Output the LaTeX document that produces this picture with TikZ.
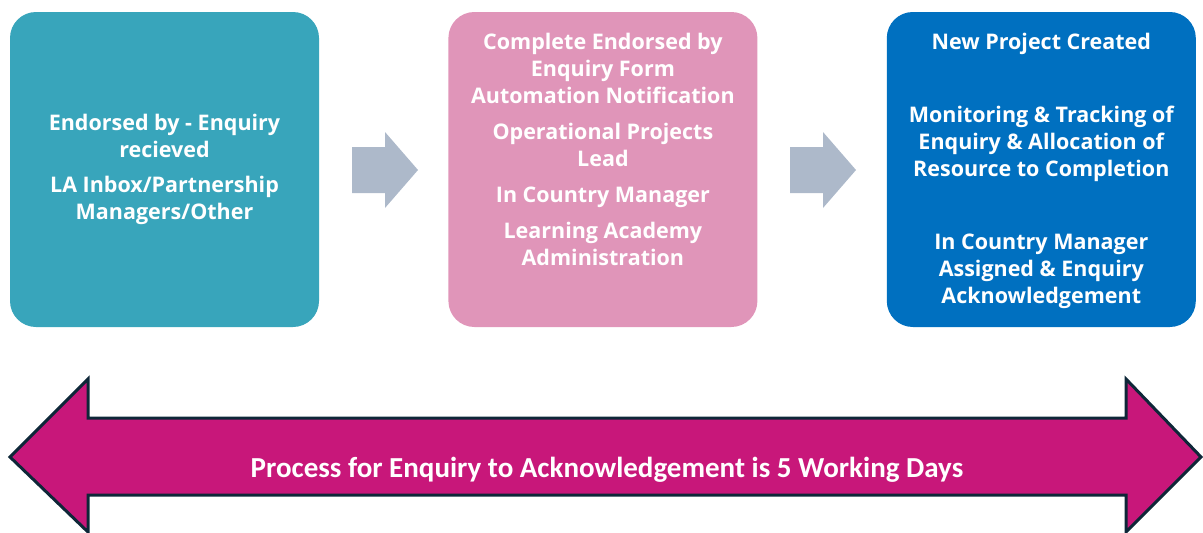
\documentclass[tikz,border=0pt]{standalone}
\usepackage{fontspec}
\setmainfont{Open Sans}
\newfontfamily\calfont{Carlito}
\usetikzlibrary{positioning}
\definecolor{tealbox}{HTML}{38A5BB}
\definecolor{pinkbox}{HTML}{E095B9}
\definecolor{bluebox}{HTML}{0070C0}
\definecolor{arrowgrey}{HTML}{ADB9CA}
\definecolor{spanmagenta}{HTML}{C8177A}
\definecolor{spanline}{HTML}{0E2738}
\begin{document}
\begin{tikzpicture}
    [x=1pt,y=-1pt,
     stage/.style={rounded corners=26pt,minimum width=309pt,minimum height=315pt,inner sep=0pt},
     stagetext/.style={text=white,font=\bfseries\fontsize{21.5}{27}\selectfont,align=center,inner sep=0pt},
     nextarrow/.style={fill=arrowgrey},
     spanarrow/.style={fill=spanmagenta,draw=spanline,line width=3pt,line join=miter}]
    \useasboundingbox (0,0) rectangle (1203,533);
    % the three stages
    \node [stage,fill=tealbox] (recv) at (164.5,169.5) {};
    \node [stage,fill=pinkbox,right=129pt of recv] (notify) {};
    \node [stage,fill=bluebox,right=129pt of notify] (created) {};
    \node [stagetext] (recvtext) at (recv.center)
      {Endorsed by - Enquiry\\recieved\\[8pt]LA Inbox/Partnership\\Managers/Other};
    \node [stagetext,below=21pt of notify.north] (notifytext)
      {Complete Endorsed by\\Enquiry Form\\Automation Notification\\[9pt]Operational Projects\\Lead\\[9pt]In Country Manager\\[9pt]Learning Academy\\Administration};
    \node [stagetext,below=21pt of created.north] (createdtext)
      {New Project Created\\[46pt]Monitoring \& Tracking of\\Enquiry \& Allocation of\\Resource to Completion\\[46pt]In Country Manager\\Assigned \& Enquiry\\Acknowledgement};
    % arrows between stages
    \fill [nextarrow] (352,147) -- (385,147) -- (385,132) -- (418,170) -- (385,208) -- (385,193) -- (352,193) -- cycle;
    \fill [nextarrow] (790,147) -- (823,147) -- (823,132) -- (856,170) -- (823,208) -- (823,193) -- (790,193) -- cycle;
    % overall span
    \draw [spanarrow] (10,457) -- (88,379) -- (88,418) -- (1126,418) -- (1126,379) -- (1201,457)
      -- (1126,532) -- (1126,495) -- (88,495) -- (88,532) -- cycle;
    \node [text=white,font=\calfont\bfseries\fontsize{29}{32}\selectfont] (span) at (607,470)
      {Process for Enquiry to Acknowledgement is 5 Working Days};
\end{tikzpicture}
\end{document}
